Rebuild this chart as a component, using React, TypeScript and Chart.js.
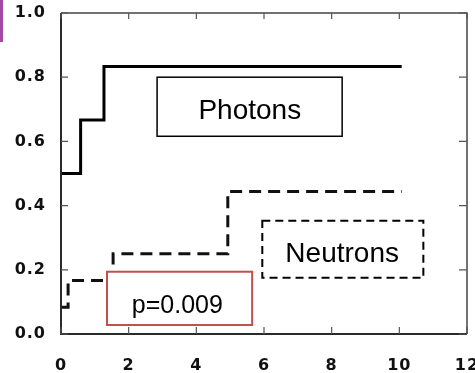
import React, { useEffect, useRef } from "react";
import { Chart, registerables } from "chart.js";

Chart.register(...registerables);

// Data
const photonX = [0, 0.58, 1.27, 10.07];
const photonY = [0.5, 0.667, 0.833, 0.833];
const neutronX = [0, 0.21, 1.54, 4.93, 10.07];
const neutronY = [0.083, 0.167, 0.25, 0.444, 0.444];
const xTicks = [0, 2, 4, 6, 8, 10, 12];
const yTicks = [0, 0.2, 0.4, 0.6, 0.8, 1.0];

// Annotation boxes in data coordinates
const labelTexts = ["Photons", "Neutrons", "p=0.009"];
const boxX0 = [2.84, 5.95, 1.36];
const boxX1 = [8.31, 10.71, 5.65];
const boxY0 = [0.8, 0.353, 0.194];
const boxY1 = [0.616, 0.175, 0.028];
const textX = [5.58, 8.31, 3.44];
const textY = [0.669, 0.225, 0.066];

const boxStyles = [
  { color: "#000000", dash: [] as number[], width: 1.5, font: "28px 'Liberation Sans', Arial, sans-serif" },
  { color: "#000000", dash: [8, 5], width: 2, font: "28px 'Liberation Sans', Arial, sans-serif" },
  { color: "#C0504D", dash: [] as number[], width: 2, font: "25px 'Liberation Sans', Arial, sans-serif" },
];

const tickFont = { family: "'DejaVu Sans', sans-serif", size: 16, weight: "bold" as const };

const framePlugin = {
  id: "frame",
  beforeDraw(chart: any) {
    const ctx = chart.ctx;
    ctx.save();
    ctx.fillStyle = "#ffffff";
    ctx.fillRect(0, 0, chart.width, chart.height);
    ctx.fillStyle = "#A349A4";
    ctx.fillRect(0, 0, 3, 42);
    ctx.restore();
    (ctx as any).letterSpacing = "1px";
  },
  afterDraw(chart: any) {
    const ctx = chart.ctx;
    (ctx as any).letterSpacing = "0px";
    const xs = chart.scales.x;
    const ys = chart.scales.y;
    const a = chart.chartArea;
    ctx.save();
    // frame
    ctx.strokeStyle = "#2a2a2a";
    ctx.lineWidth = 2;
    ctx.beginPath();
    ctx.moveTo(a.left, a.top);
    ctx.lineTo(a.left, a.bottom);
    ctx.lineTo(a.right, a.bottom);
    ctx.stroke();
    ctx.lineWidth = 1.5;
    ctx.strokeStyle = "#444";
    ctx.beginPath();
    ctx.moveTo(a.left, a.top);
    ctx.lineTo(a.right, a.top);
    ctx.lineTo(a.right, a.bottom);
    ctx.stroke();
    // inward ticks
    ctx.strokeStyle = "#555";
    ctx.lineWidth = 1.2;
    yTicks.forEach((v) => {
      const py = ys.getPixelForValue(v);
      ctx.beginPath();
      ctx.moveTo(a.left, py);
      ctx.lineTo(a.left + 7, py);
      ctx.moveTo(a.right, py);
      ctx.lineTo(a.right - 8, py);
      ctx.stroke();
    });
    xTicks.forEach((v) => {
      const px = xs.getPixelForValue(v);
      ctx.beginPath();
      ctx.moveTo(px, a.bottom);
      ctx.lineTo(px, a.bottom - 7);
      ctx.moveTo(px, a.top);
      ctx.lineTo(px, a.top + 6);
      ctx.stroke();
    });
    // annotation boxes
    labelTexts.forEach((t, i) => {
      const st = boxStyles[i];
      const x0 = xs.getPixelForValue(boxX0[i]);
      const x1 = xs.getPixelForValue(boxX1[i]);
      const y0 = ys.getPixelForValue(boxY0[i]);
      const y1 = ys.getPixelForValue(boxY1[i]);
      ctx.fillStyle = "#ffffff";
      ctx.fillRect(x0, y0, x1 - x0, y1 - y0);
      ctx.setLineDash(st.dash);
      ctx.strokeStyle = st.color;
      ctx.lineWidth = st.width;
      ctx.strokeRect(x0, y0, x1 - x0, y1 - y0);
      ctx.setLineDash([]);
      ctx.fillStyle = "#000000";
      ctx.font = st.font;
      ctx.textAlign = "center";
      ctx.textBaseline = "alphabetic";
      ctx.fillText(t, xs.getPixelForValue(textX[i]), ys.getPixelForValue(textY[i]));
    });
    ctx.restore();
  },
};

export default function App() {
  const ref = useRef<HTMLCanvasElement | null>(null);
  useEffect(() => {
    document.body.style.margin = "0";
    const canvas = ref.current!;
    const chart = new Chart(canvas, {
      type: "scatter",
      data: {
        datasets: [
          {
            label: "Photons",
            data: photonX.map((x, i) => ({ x, y: photonY[i] })),
            showLine: true,
            stepped: true,
            borderColor: "#000000",
            borderWidth: 3,
            pointRadius: 0,
            fill: false,
          },
          {
            label: "Neutrons",
            data: neutronX.map((x, i) => ({ x, y: neutronY[i] })),
            showLine: true,
            stepped: true,
            borderColor: "#111111",
            borderWidth: 3,
            borderDash: [12, 7],
            pointRadius: 0,
            fill: false,
          },
        ],
      },
      options: {
        responsive: false,
        animation: false,
        devicePixelRatio: 1,
        layout: { padding: { top: 13, right: 8, left: 0, bottom: 0 } },
        plugins: { legend: { display: false }, tooltip: { enabled: false } },
        scales: {
          x: {
            type: "linear",
            min: 0,
            max: 12,
            afterBuildTicks: (s: any) => {
              s.ticks = xTicks.map((v) => ({ value: v }));
            },
            afterFit: (s: any) => {
              s.height = 39;
              s.paddingLeft = 0;
              s.paddingRight = 0;
            },
            grid: { display: false, drawTicks: false },
            border: { display: false },
            ticks: {
              padding: 22,
              color: "#111",
              font: tickFont,
              maxRotation: 0,
              autoSkip: false,
              callback: (v: any) => String(v),
            },
          },
          y: {
            type: "linear",
            min: 0,
            max: 1,
            afterBuildTicks: (s: any) => {
              s.ticks = yTicks.map((v) => ({ value: v }));
            },
            afterFit: (s: any) => {
              s.width = 61;
              s.paddingTop = 0;
              s.paddingBottom = 0;
            },
            grid: { display: false, drawTicks: false },
            border: { display: false },
            ticks: {
              padding: 15,
              color: "#111",
              font: tickFont,
              autoSkip: false,
              callback: (v: any) => Number(v).toFixed(1),
            },
          },
        },
      },
      plugins: [framePlugin],
    });
    return () => chart.destroy();
  }, []);
  return (
    <div style={{ position: "absolute", left: 0, top: 0, width: 475, height: 373 }}>
      <canvas ref={ref} width={475} height={373} />
    </div>
  );
}
